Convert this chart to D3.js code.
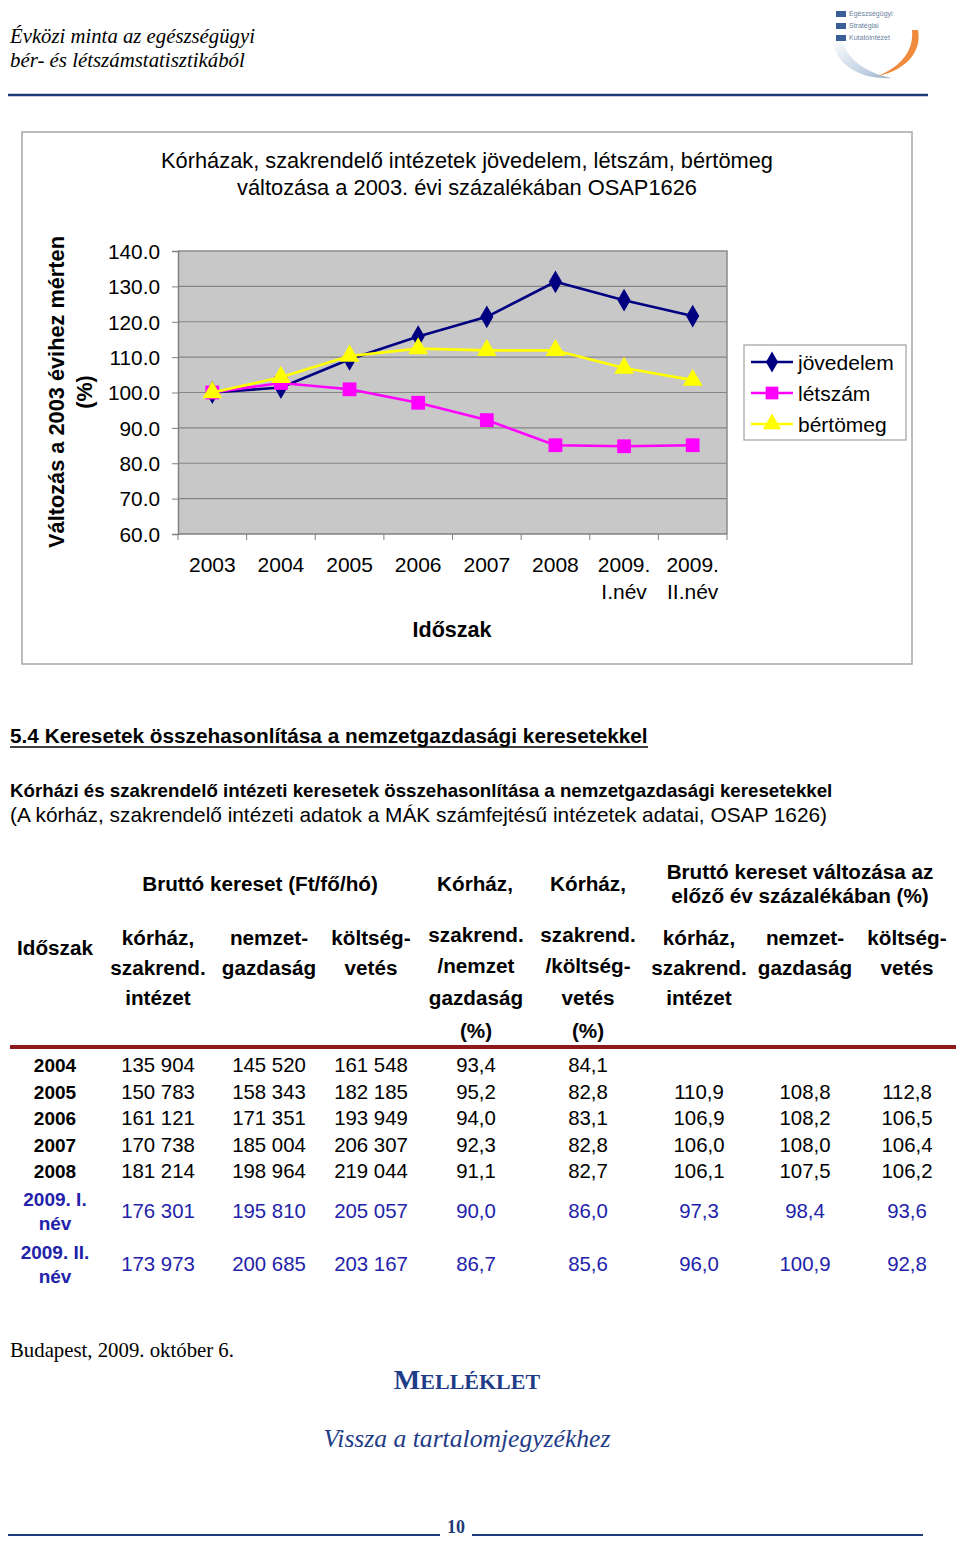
<!DOCTYPE html>
<html>
<head>
<meta charset="utf-8">
<script src="https://cdn.jsdelivr.net/npm/d3@7"></script>
<style>
  html, body { margin: 0; padding: 0; background: #fff; }
  svg { display: block; }
</style>
</head>
<body>
<svg id="page" width="960" height="1543"></svg>
<script>
// ---------------- DATA ----------------
const categories = ["2003", "2004", "2005", "2006", "2007", "2008", "2009. I.név", "2009. II.név"];
const jovedelem = [100.0, 101.4, 109.4, 115.8, 121.4, 131.3, 126.1, 121.6];
const letszam   = [100.0, 102.7, 100.9, 97.1, 92.2, 85.1, 84.8, 85.1];
const bertomeg  = [100.0, 104.3, 110.3, 112.4, 111.9, 111.9, 106.9, 103.5];
const seriesNames = ["jövedelem", "létszám", "bértömeg"];
const yTicks = [60, 70, 80, 90, 100, 110, 120, 130, 140];

const periods = ["2004", "2005", "2006", "2007", "2008", "2009. I. név", "2009. II. név"];
const keresetKorhaz = [135904, 150783, 161121, 170738, 181214, 176301, 173973];
const keresetNemzetgazdasag = [145520, 158343, 171351, 185004, 198964, 195810, 200685];
const keresetKoltsegvetes = [161548, 182185, 193949, 206307, 219044, 205057, 203167];
const aranyNemzetgazdasag = [93.4, 95.2, 94.0, 92.3, 91.1, 90.0, 86.7];
const aranyKoltsegvetes = [84.1, 82.8, 83.1, 82.8, 82.7, 86.0, 85.6];
const valtKorhaz = [null, 110.9, 106.9, 106.0, 106.1, 97.3, 96.0];
const valtNemzetgazdasag = [null, 108.8, 108.2, 108.0, 107.5, 98.4, 100.9];
const valtKoltsegvetes = [null, 112.8, 106.5, 106.4, 106.2, 93.6, 92.8];

// ---------------- HELPERS ----------------
const SANS = "'Liberation Sans', Arial, sans-serif";
const SERIF = "'Liberation Serif', 'Times New Roman', serif";
const svg = d3.select("#page");

function fit(sel, width) {
  const w = sel.node().getComputedTextLength();
  const fs = parseFloat(sel.attr("font-size"));
  sel.attr("font-size", (fs * width / w).toFixed(2));
  return sel;
}
function txt(g, x, y, s, opts = {}) {
  const t = g.append("text").attr("x", x).attr("y", y).text(s)
    .attr("font-family", opts.family || SANS)
    .attr("font-size", opts.size || 20)
    .attr("font-weight", opts.weight || "normal")
    .attr("font-style", opts.style || "normal")
    .attr("fill", opts.fill || "#000")
    .attr("text-anchor", opts.anchor || "start");
  if (opts.width) fit(t, opts.width);
  return t;
}

// ---------------- PAGE HEADER ----------------
const hdr = svg.append("g");
txt(hdr, 10, 43, "Évközi minta az egészségügyi", {family: SERIF, style: "italic", size: 20, width: 245});
txt(hdr, 10, 67, "bér- és létszámstatisztikából", {family: SERIF, style: "italic", size: 20, width: 235});
hdr.append("line").attr("x1", 8).attr("x2", 928).attr("y1", 95).attr("y2", 95)
  .attr("stroke", "#1d3b78").attr("stroke-width", 2.5);

// logo
const defs = svg.append("defs");
const lg = defs.append("linearGradient").attr("id", "swoosh").attr("x1", 0).attr("y1", 0).attr("x2", 1).attr("y2", 1);
lg.append("stop").attr("offset", 0).attr("stop-color", "#ffffff");
lg.append("stop").attr("offset", 0.6).attr("stop-color", "#c9d6e6");
lg.append("stop").attr("offset", 1).attr("stop-color", "#9fb3cc");
const logo = svg.append("g");
logo.append("path").attr("d", "M832,40 C836,66 862,80 892,78 C870,74 848,62 842,40 Z").attr("fill", "url(#swoosh)");
logo.append("path").attr("d", "M918,30 C922,52 906,70 878,76 C902,66 914,50 912,30 Z").attr("fill", "#f08a3c");
[16, 28, 40].forEach((yy, i) => {
  logo.append("rect").attr("x", 836).attr("y", yy - 5).attr("width", 10).attr("height", 6).attr("fill", "#3a5e9a");
  logo.append("text").attr("x", 849).attr("y", yy).attr("font-family", SANS).attr("font-size", 7)
    .attr("fill", "#6a7f9f").text(["Egészségügyi", "Stratégiai", "Kutatóintézet"][i]);
});

// ---------------- CHART ----------------
const chart = svg.append("g");
chart.append("rect").attr("x", 22).attr("y", 132).attr("width", 890).attr("height", 532)
  .attr("fill", "#fff").attr("stroke", "#a6a6a6").attr("stroke-width", 1.5);

txt(chart, 467, 168, "Kórházak, szakrendelő intézetek jövedelem, létszám, bértömeg", {anchor: "middle", size: 20, width: 612});
txt(chart, 467, 195, "változása a 2003. évi százalékában OSAP1626", {anchor: "middle", size: 20, width: 460});

const plot = {left: 178, right: 727, top: 251, bottom: 534};
const x = d3.scaleBand().domain(categories).range([plot.left, plot.right]);
const y = d3.scaleLinear().domain([60, 140]).range([plot.bottom, plot.top]);

chart.append("rect").attr("x", plot.left).attr("y", plot.top)
  .attr("width", plot.right - plot.left).attr("height", plot.bottom - plot.top)
  .attr("fill", "#c8c8c8");

// gridlines
chart.append("g").selectAll("line").data(yTicks.slice(1, -1)).join("line")
  .attr("x1", plot.left).attr("x2", plot.right)
  .attr("y1", d => y(d)).attr("y2", d => y(d))
  .attr("stroke", "#858585").attr("stroke-width", 1.2);
// plot border (top/right)
chart.append("path").attr("d", `M${plot.left},${plot.top}H${plot.right}V${plot.bottom}`)
  .attr("fill", "none").attr("stroke", "#8a8a8a").attr("stroke-width", 1.5);

// y axis
const yAxis = chart.append("g").attr("transform", `translate(${plot.left},0)`)
  .call(d3.axisLeft(y).tickValues(yTicks).tickSize(6).tickFormat(d3.format(".1f")));
yAxis.select(".domain").attr("stroke", "#808080").attr("stroke-width", 1.5);
yAxis.selectAll(".tick line").attr("stroke", "#808080");
yAxis.selectAll(".tick text").attr("font-family", SANS).attr("font-size", 20.8)
  .attr("fill", "#000").attr("x", -18).attr("dy", "0.35em");

// x axis (ticks between categories)
const xAxisG = chart.append("g").attr("transform", `translate(0,${plot.bottom})`);
xAxisG.append("line").attr("x1", plot.left).attr("x2", plot.right).attr("y1", 0).attr("y2", 0)
  .attr("stroke", "#808080").attr("stroke-width", 1.5);
const bounds = categories.map(c => x(c)).concat([x(categories[categories.length - 1]) + x.bandwidth()]);
xAxisG.selectAll("line.tk").data(bounds).join("line").attr("class", "tk")
  .attr("x1", d => d).attr("x2", d => d).attr("y1", 0).attr("y2", 6)
  .attr("stroke", "#808080");
const xl = xAxisG.selectAll("text.xl").data(categories).join("text").attr("class", "xl")
  .attr("text-anchor", "middle").attr("font-family", SANS).attr("font-size", 21).attr("fill", "#000")
  .attr("transform", d => `translate(${x(d) + x.bandwidth() / 2},38)`);
xl.each(function (d) {
  const parts = d.split(" ");
  d3.select(this).selectAll("tspan").data(parts).join("tspan")
    .attr("x", 0).attr("dy", (p, i) => i === 0 ? 0 : 27).text(p => p);
});

// axis titles
txt(chart, 452, 637, "Időszak", {anchor: "middle", weight: "bold", size: 21, width: 79});
const yt = chart.append("g").attr("transform", "translate(64,392) rotate(-90)");
txt(yt, 0, 0, "Változás a 2003 évihez mérten", {anchor: "middle", weight: "bold", size: 21.5, width: 312});
txt(yt, 0, 28, "(%)", {anchor: "middle", weight: "bold", size: 21.5});

// series
const series = [
  {name: seriesNames[0], values: jovedelem, color: "#000080", marker: d3.symbolDiamond, msize: 150},
  {name: seriesNames[1], values: letszam, color: "#ff00ff", marker: d3.symbolSquare, msize: 190},
  {name: seriesNames[2], values: bertomeg, color: "#ffff00", marker: d3.symbolTriangle, msize: 170}
];
const line = d3.line().x((d, i) => x(categories[i]) + x.bandwidth() / 2).y(d => y(d));
series.forEach(s => {
  const g = chart.append("g");
  g.append("path").attr("d", line(s.values)).attr("fill", "none")
    .attr("stroke", s.color).attr("stroke-width", 2.6).attr("stroke-linejoin", "round");
  g.selectAll("path.m").data(s.values).join("path").attr("class", "m")
    .attr("d", d3.symbol().type(s.marker).size(s.msize))
    .attr("transform", (d, i) => `translate(${x(categories[i]) + x.bandwidth() / 2},${y(d)})`)
    .attr("fill", s.color);
});

// legend
const leg = chart.append("g");
leg.append("rect").attr("x", 744).attr("y", 345).attr("width", 162).attr("height", 95)
  .attr("fill", "#fff").attr("stroke", "#a0a0a0").attr("stroke-width", 1.2);
const legY = d3.scalePoint().domain(seriesNames).range([362, 424]);
series.forEach(s => {
  const yy = legY(s.name);
  leg.append("line").attr("x1", 751).attr("x2", 793).attr("y1", yy).attr("y2", yy)
    .attr("stroke", s.color).attr("stroke-width", 2.6);
  leg.append("path").attr("d", d3.symbol().type(s.marker).size(s.msize * 0.85))
    .attr("transform", `translate(772,${yy})`).attr("fill", s.color);
  txt(leg, 798, yy + 7.5, s.name, {size: 21});
});

// ---------------- SECTION TEXT ----------------
const sec = svg.append("g");
txt(sec, 10, 743, "5.4 Keresetek összehasonlítása a nemzetgazdasági keresetekkel", {weight: "bold", size: 19, width: 638});
sec.append("line").attr("x1", 10).attr("x2", 648).attr("y1", 747).attr("y2", 747)
  .attr("stroke", "#000").attr("stroke-width", 1.6);
txt(sec, 10, 797, "Kórházi és szakrendelő intézeti keresetek összehasonlítása a nemzetgazdasági keresetekkel", {weight: "bold", size: 17, width: 823});
txt(sec, 10, 822, "(A kórház, szakrendelő intézeti adatok a MÁK számfejtésű intézetek adatai, OSAP 1626)", {size: 17, width: 817});

// ---------------- TABLE ----------------
const tbl = svg.append("g");
const colX = [158, 269, 371, 476, 588, 699, 805, 907];
const HB = 20.7;   // header bold size
const HD = 20.4;   // data size
const hOpt = {anchor: "middle", weight: "bold", size: HB};

txt(tbl, 260, 891, "Bruttó kereset (Ft/fő/hó)", hOpt);
txt(tbl, 475, 891, "Kórház,", hOpt);
txt(tbl, 588, 891, "Kórház,", hOpt);
txt(tbl, 800, 879, "Bruttó kereset változása az", hOpt);
txt(tbl, 800, 903, "előző év százalékában (%)", hOpt);

txt(tbl, 55, 955, "Időszak", hOpt);
const subHeaders = [
  {col: 0, lines: [[938, "kórház,"], [968, "szakrend."], [998, "intézet"]]},
  {col: 1, lines: [[938, "nemzet-"], [968, "gazdaság"]]},
  {col: 2, lines: [[938, "költség-"], [968, "vetés"]]},
  {col: 3, lines: [[935, "szakrend."], [966, "/nemzet"], [998, "gazdaság"], [1031, "(%)"]]},
  {col: 4, lines: [[935, "szakrend."], [966, "/költség-"], [998, "vetés"], [1031, "(%)"]]},
  {col: 5, lines: [[938, "kórház,"], [968, "szakrend."], [998, "intézet"]]},
  {col: 6, lines: [[938, "nemzet-"], [968, "gazdaság"]]},
  {col: 7, lines: [[938, "költség-"], [968, "vetés"]]}
];
subHeaders.forEach(sh => sh.lines.forEach(([yy, s]) => txt(tbl, colX[sh.col], yy + 7, s, hOpt)));

tbl.append("line").attr("x1", 10).attr("x2", 956).attr("y1", 1047).attr("y2", 1047)
  .attr("stroke", "#8c1a1a").attr("stroke-width", 4);

const fmtInt = v => d3.format(",")(v).replace(/,/g, " ");
const fmtDec = v => v == null ? "" : d3.format(".1f")(v).replace(".", ",");
const columns = [
  keresetKorhaz.map(fmtInt), keresetNemzetgazdasag.map(fmtInt), keresetKoltsegvetes.map(fmtInt),
  aranyNemzetgazdasag.map(fmtDec), aranyKoltsegvetes.map(fmtDec),
  valtKorhaz.map(fmtDec), valtNemzetgazdasag.map(fmtDec), valtKoltsegvetes.map(fmtDec)
];
// row layout: single-line rows 26.5px, two-line rows 53px
let cursor = 1052;
const rowCenters = periods.map(p => {
  const two = p.includes(" ");
  const hgt = two ? 53 : 26.5;
  const c = cursor + hgt / 2;
  cursor += hgt;
  return c;
});
periods.forEach((p, r) => {
  const two = p.includes(" ");
  const col = two ? "#2323aa" : "#000";
  const cy = rowCenters[r];
  if (two) {
    const parts = p.split(" ");
    txt(tbl, 55, cy - 12 + 7, parts[0] + " " + parts[1], {anchor: "middle", weight: "bold", size: 19, fill: col});
    txt(tbl, 55, cy + 12 + 7, parts[2], {anchor: "middle", weight: "bold", size: 19, fill: col});
  } else {
    txt(tbl, 55, cy + 7, p, {anchor: "middle", weight: "bold", size: 19, fill: col});
  }
  columns.forEach((vals, c) => {
    if (vals[r] !== "") txt(tbl, colX[c], cy + 7, vals[r], {anchor: "middle", size: HD, fill: col});
  });
});

// ---------------- FOOTER ----------------
const ft = svg.append("g");
txt(ft, 10, 1357, "Budapest, 2009. október 6.", {family: SERIF, size: 20, width: 224});
const mel = ft.append("text").attr("x", 467).attr("y", 1389).attr("text-anchor", "middle")
  .attr("font-family", SERIF).attr("font-weight", "bold").attr("fill", "#1f3c88").attr("font-size", 22);
mel.append("tspan").attr("font-size", 28).text("M");
mel.append("tspan").attr("font-size", 22).text("ELLÉKLET");
txt(ft, 467, 1447, "Vissza a tartalomjegyzékhez", {family: SERIF, style: "italic", anchor: "middle", size: 24, width: 287, fill: "#1f3c88"});
ft.append("line").attr("x1", 8).attr("x2", 440).attr("y1", 1535).attr("y2", 1535).attr("stroke", "#1d3b78").attr("stroke-width", 2);
ft.append("line").attr("x1", 472).attr("x2", 923).attr("y1", 1535).attr("y2", 1535).attr("stroke", "#1d3b78").attr("stroke-width", 2);
txt(ft, 456, 1533, "10", {family: SERIF, weight: "bold", anchor: "middle", size: 18, fill: "#1d3b78"});
</script>
</body>
</html>
